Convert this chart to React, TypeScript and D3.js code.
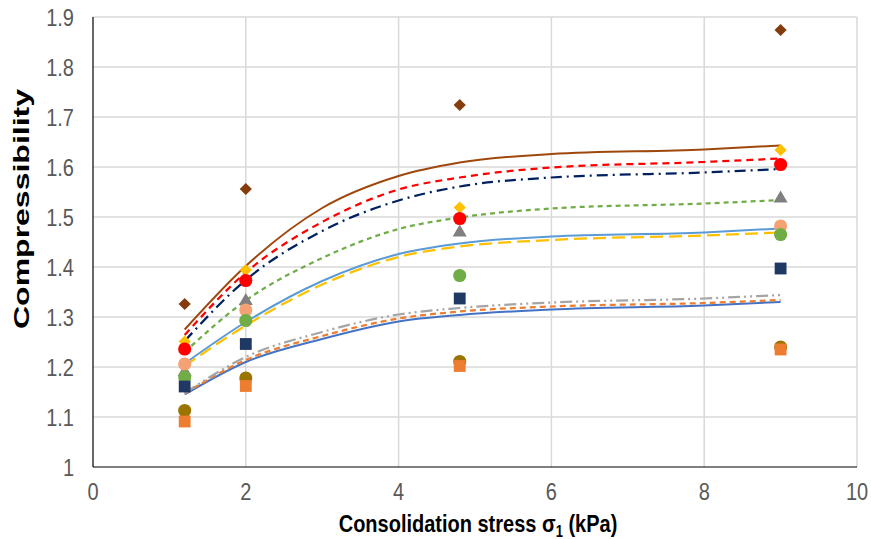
import React from "react";
import * as d3 from "d3";

// Consolidation stress levels (kPa) where compressibility was measured
const stressPoints = [1.2, 2, 4.8, 9];

// Measured compressibility for each sample (marker series)
const brownDiamond = [1.326, 1.556, 1.724, 1.874];
const yellowDiamond = [1.251, 1.394, 1.519, 1.634];
const redCircle = [1.236, 1.373, 1.497, 1.605];
const grayTriangle = [1.19, 1.332, 1.469, 1.537];
const salmonCircle: (number | null)[] = [1.206, 1.314, null, 1.482];
const greenCircle = [1.18, 1.293, 1.383, 1.465];
const navySquare = [1.161, 1.246, 1.337, 1.397];
const oliveCircle = [1.113, 1.178, 1.211, 1.24];
const orangeSquare = [1.091, 1.162, 1.202, 1.235];

// Fitted curves, sampled along the stress axis
const fitStress = [1.2, 2, 3, 4, 4.8, 6, 8, 9];
const fitBrown = [1.275, 1.402, 1.518, 1.582, 1.609, 1.626, 1.635, 1.643];
const fitRed = [1.264, 1.389, 1.49, 1.555, 1.579, 1.599, 1.61, 1.617];
const fitNavy = [1.252, 1.374, 1.472, 1.533, 1.561, 1.579, 1.589, 1.596];
const fitGreen = [1.23, 1.333, 1.418, 1.476, 1.499, 1.517, 1.527, 1.534];
const fitLightBlue = [1.207, 1.29, 1.372, 1.426, 1.447, 1.461, 1.469, 1.477];
const fitYellow = [1.202, 1.283, 1.365, 1.42, 1.441, 1.454, 1.463, 1.469];
const fitGray = [1.148, 1.22, 1.27, 1.305, 1.318, 1.329, 1.337, 1.344];
const fitOrange = [1.147, 1.214, 1.262, 1.297, 1.311, 1.321, 1.328, 1.334];
const fitBlue = [1.145, 1.21, 1.256, 1.291, 1.304, 1.315, 1.323, 1.33];

const xTicks = [0, 2, 4, 6, 8, 10];
const yTicks = [1, 1.1, 1.2, 1.3, 1.4, 1.5, 1.6, 1.7, 1.8, 1.9];

const W = 871;
const H = 539;
const plot = { left: 93, right: 857, top: 17, bottom: 467 };
const textStretch = 1.2;

type Fit = { values: number[]; color: string; dash: string | null; width: number };
const fits: Fit[] = [
  { values: fitBlue, color: "#4472C4", dash: null, width: 2 },
  { values: fitOrange, color: "#ED7D31", dash: "6,4", width: 2.25 },
  { values: fitGray, color: "#A5A5A5", dash: "12,4,2,4,2,4", width: 2.25 },
  { values: fitYellow, color: "#FFC000", dash: "13,6", width: 2.25 },
  { values: fitLightBlue, color: "#5B9BD5", dash: null, width: 2 },
  { values: fitGreen, color: "#70AD47", dash: "5,4", width: 2.25 },
  { values: fitNavy, color: "#002060", dash: "11,5,2,5", width: 2.25 },
  { values: fitRed, color: "#FF0000", dash: "7,5", width: 2.25 },
  { values: fitBrown, color: "#9E480E", dash: null, width: 2 },
];

type Shape = "diamond" | "circle" | "square" | "triangle";
type Markers = { values: (number | null)[]; color: string; shape: Shape };
const markers: Markers[] = [
  { values: brownDiamond, color: "#843C0C", shape: "diamond" },
  { values: yellowDiamond, color: "#FFC000", shape: "diamond" },
  { values: redCircle, color: "#FF0000", shape: "circle" },
  { values: grayTriangle, color: "#808080", shape: "triangle" },
  { values: salmonCircle, color: "#F4A273", shape: "circle" },
  { values: greenCircle, color: "#70AD47", shape: "circle" },
  { values: navySquare, color: "#203864", shape: "square" },
  { values: oliveCircle, color: "#9C7400", shape: "circle" },
  { values: orangeSquare, color: "#ED7D31", shape: "square" },
];

const symbolFor: Record<Shape, { type: d3.SymbolType; size: number }> = {
  diamond: { type: d3.symbolDiamond2, size: 95 },
  circle: { type: d3.symbolCircle, size: 135 },
  square: { type: d3.symbolSquare, size: 140 },
  triangle: { type: d3.symbolTriangle, size: 85 },
};

const font = "'Liberation Sans', Arial, sans-serif";

export default function App() {
  const x = d3.scaleLinear().domain([0, 10]).range([plot.left, plot.right]);
  const y = d3.scaleLinear().domain([1, 1.9]).range([plot.bottom, plot.top]);

  const line = d3
    .line<number>()
    .x((_, i) => x(fitStress[i]))
    .y((d) => y(d))
    .curve(d3.curveMonotoneX);

  return (
    <svg width={W} height={H} style={{ position: "absolute", left: 0, top: 0, background: "#fff" }}>
      {/* gridlines */}
      {yTicks.filter((t) => t > 1).map((t) => (
        <line key={"gy" + t} x1={plot.left} x2={plot.right} y1={y(t)} y2={y(t)} stroke="#D9D9D9" strokeWidth={1.5} />
      ))}
      {xTicks.filter((t) => t > 0).map((t) => (
        <line key={"gx" + t} x1={x(t)} x2={x(t)} y1={plot.top} y2={plot.bottom} stroke="#D9D9D9" strokeWidth={1.5} />
      ))}
      {/* axes */}
      <line x1={plot.left} x2={plot.left} y1={plot.top} y2={plot.bottom} stroke="#000" strokeWidth={1.2} />
      <line x1={plot.left} x2={plot.right} y1={plot.bottom} y2={plot.bottom} stroke="#000" strokeWidth={1.2} />

      {/* tick labels */}
      {yTicks.map((t) => (
        <text
          key={"ty" + t}
          transform={`translate(74,${y(t) + 8.5}) scale(1,${textStretch})`}
          textAnchor="end"
          fontFamily={font}
          fontSize={20}
          fill="#595959"
        >
          {d3.format("~g")(t)}
        </text>
      ))}
      {xTicks.map((t) => (
        <text
          key={"tx" + t}
          transform={`translate(${x(t)},500) scale(1,${textStretch})`}
          textAnchor="middle"
          fontFamily={font}
          fontSize={20}
          fill="#595959"
        >
          {t}
        </text>
      ))}

      {/* fitted curves */}
      {fits.map((f, i) => (
        <path
          key={"f" + i}
          d={line(f.values) ?? ""}
          fill="none"
          stroke={f.color}
          strokeWidth={f.width}
          strokeDasharray={f.dash ?? undefined}
        />
      ))}

      {/* measured points */}
      {markers.map((m, i) =>
        m.values.map((v, j) =>
          v == null ? null : (
            <path
              key={"m" + i + "-" + j}
              transform={`translate(${x(stressPoints[j])},${y(v)})`}
              d={d3.symbol(symbolFor[m.shape].type, symbolFor[m.shape].size)() ?? ""}
              fill={m.color}
            />
          )
        )
      )}

      {/* axis titles */}
      <text
        transform={`translate(478,532) scale(1,${textStretch})`}
        textAnchor="middle"
        fontFamily={font}
        fontSize={20}
        fontWeight="bold"
        fill="#000"
      >
        Consolidation stress σ<tspan fontSize={13} dy={4}>1</tspan>
        <tspan dy={-4}> (kPa)</tspan>
      </text>
      <text
        transform="translate(29,209) rotate(-90)"
        textAnchor="middle"
        fontFamily={font}
        fontSize={22}
        fontWeight="bold"
        fill="#000"
        textLength={240}
        lengthAdjust="spacingAndGlyphs"
      >
        Compressibility
      </text>
    </svg>
  );
}
